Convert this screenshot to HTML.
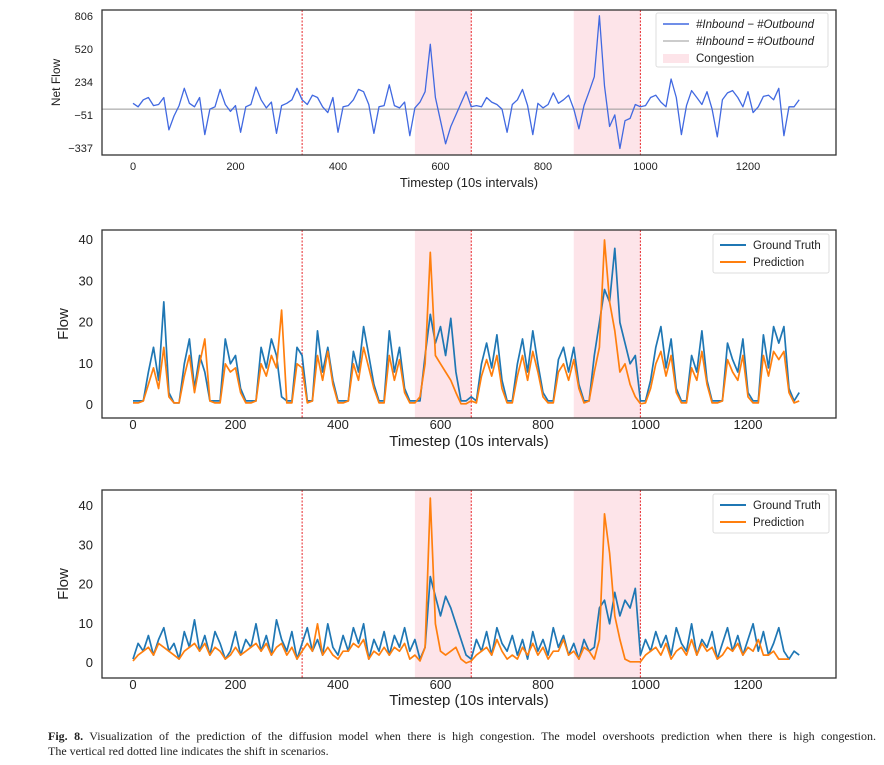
<!DOCTYPE html>
<html><head><meta charset="utf-8">
<style>
body{margin:0;background:#fff;width:884px;height:765px;overflow:hidden;font-family:"Liberation Sans",sans-serif;}
svg{position:absolute;left:0;top:0}
.cap{position:absolute;left:48px;top:729px;width:828px;font-family:"Liberation Serif",serif;font-size:12px;line-height:15px;color:#222}
.cap .l1{text-align:justify;text-align-last:justify;white-space:nowrap}
</style></head><body>
<svg id="chart" width="884" height="765" xmlns="http://www.w3.org/2000/svg"></svg>
<div class="cap"><div class="l1"><b>Fig. 8.</b> Visualization of the prediction of the diffusion model when there is high congestion. The model overshoots prediction when there is high congestion.</div><div>The vertical red dotted line indicates the shift in scenarios.</div></div>
<script>
const STEP = 10;
const xTicks = [0,200,400,600,800,1000,1200];
const netTicks = [806,520,234,-51,-337];
const flowTicks = [40,30,20,10,0];
const shiftLines = [330,660,990];
const congestion = [[550,660],[860,990]];
const netFlow = [50,20,80,100,30,40,100,-180,-60,30,180,50,20,100,-220,0,20,170,40,-20,30,-200,20,40,190,80,10,60,-210,30,50,80,180,80,40,120,100,20,-30,100,-200,20,30,80,170,150,40,-210,20,30,210,30,10,60,-230,10,60,150,560,100,-100,-300,-150,-50,50,150,20,30,20,100,60,40,0,-200,40,80,170,30,-220,50,10,40,140,50,80,120,0,-170,30,150,280,806,200,-150,-50,-340,-100,-80,40,20,30,100,120,60,20,260,100,-220,30,160,100,40,150,0,-240,80,140,160,100,20,150,-30,20,110,120,80,180,-230,20,20,80];
const gt2 = [1,1,1,8,14,6,25,3,0.5,0.5,10,16,4,12,8,1,1,1,16,10,12,4,1,1,1,14,9,16,12,2,1,1,14,12,1,1,18,8,14,6,1,1,1,13,8,19,12,5,1,1,18,8,14,4,1,1,1,12,22,15,19,12,21,8,1,1,2,1,10,15,9,17,6,1,1,10,16,8,18,10,3,1,1,11,14,8,14,5,1,1,12,20,28,25,38,20,15,10,12,1,1,6,14,19,9,16,4,1,1,12,8,18,6,1,1,1,15,11,8,16,3,1,1,17,9,19,15,19,4,1,3];
const pred2 = [0.5,0.5,1,5,9,4,14,2,0.5,0.5,7,12,3,10,16,1,0.5,0.5,10,8,9,3,0.5,0.5,1,10,7,12,9,23,0.5,0.5,10,9,0.5,1,12,6,13,5,0.5,0.5,1,10,6,14,9,4,0.5,0.5,12,6,11,3,0.5,0.5,2,10,37,12,10,8,6,3,0.3,0.3,1,0.5,7,11,7,12,4,0.5,0.5,7,12,6,13,8,2,0.5,0.5,8,10,6,11,4,0.5,1,8,14,40,25,18,8,10,5,2,0.3,0.5,4,10,13,7,12,3,0.5,0.5,9,6,13,5,0.5,0.5,1,11,8,6,12,2,0.5,0.5,12,7,13,11,13,3,0.5,1];
const gt3 = [1,5,3,7,2,6,9,3,5,1,8,4,11,3,7,2,8,5,1,3,8,2,6,4,10,3,7,2,11,6,3,8,1,5,9,3,6,2,10,4,2,7,3,9,5,10,1,6,3,8,2,7,4,9,3,6,1,4,22,17,12,17,14,10,6,2,1,6,3,8,2,9,5,3,7,2,6,1,8,3,6,2,9,4,7,2,5,1,6,3,4,14,16,10,18,12,16,14,19,2,6,3,8,4,7,2,9,5,3,10,2,6,4,8,1,5,9,3,7,2,6,10,3,8,2,5,9,3,1,3,2];
const pred3 = [0.5,2,3,4,2,5,4,3,2,1,3,4,5,3,5,2,4,3,1,2,4,2,3,4,5,3,5,2,4,5,2,4,1,3,5,3,10,2,4,2,1,3,3,5,4,6,1,3,2,4,2,4,3,5,1,2,0.5,4,42,10,3,2,3,4,1,0,0.5,2,3,4,2,6,3,1,2,1,4,2,5,2,4,1,3,3,6,2,3,1,4,3,1,6,38,28,12,6,1,0.3,0.3,0.3,2,3,4,2,5,1,3,4,2,6,2,5,3,4,1,2,4,3,5,2,4,3,6,2,2,3,1,1,1];

const svg = document.getElementById('chart');
const NS = 'http://www.w3.org/2000/svg';
function el(tag, attrs, parent){const e=document.createElementNS(NS,tag);for(const k in attrs)e.setAttribute(k,attrs[k]);(parent||svg).appendChild(e);return e;}
const X0=102, X1=836;
function xs(t){return 133 + t*0.5125;}

const panels = [
 {name:'net-flow-panel', top:10, bottom:155, y:v=>115 + (-51 - v)*(33/285), ticks:netTicks, tfs:11, ylab:'Net Flow', ylx:60, yfs:12, xly:166, xlab:187, xlfs:13},
 {name:'flow-panel-a', top:230, bottom:418, y:v=>405 - v*4.125, ticks:flowTicks, tfs:13, ylab:'Flow', ylx:68, yfs:15, xly:425, xlab:446, xlfs:15},
 {name:'flow-panel-b', top:490, bottom:678, y:v=>663 - v*3.925, ticks:flowTicks, tfs:13, ylab:'Flow', ylx:68, yfs:15, xly:685, xlab:705, xlfs:15}
];

function line(arr, p, color, w, name){
  let d='';
  arr.forEach((v,i)=>{d+=(i?'L':'M')+xs(i*STEP).toFixed(1)+','+p.y(v).toFixed(1);});
  const e=el('path',{d:d,fill:'none',stroke:color,'stroke-width':w,'stroke-linejoin':'round'});
  
  
}

panels.forEach((p,pi)=>{
  const g=el('g',{});
  
  
  congestion.forEach((c,ci)=>{
    const r=el('rect',{x:xs(c[0]),y:p.top,width:xs(c[1])-xs(c[0]),height:p.bottom-p.top,fill:'#fde4e9'},g);
    
    
  });
  shiftLines.forEach(t=>{
    const l=el('line',{x1:xs(t),x2:xs(t),y1:p.top,y2:p.bottom,stroke:'#e8262a','stroke-width':1,'stroke-dasharray':'2,1.5'},g);
    
    
  });
  p.ticks.forEach(v=>{
    const t=el('text',{x:93,y:p.y(v)+4,'text-anchor':'end','font-size':p.tfs,fill:'#222'},g);
    t.textContent = v<0 ? '\u2212'+(-v) : v;
    
    
  });
  xTicks.forEach(v=>{
    const t=el('text',{x:xs(v),y:p.xly+4,'text-anchor':'middle','font-size':p.tfs,fill:'#222'},g);
    t.textContent=v;
    
    
  });
  const yl=el('text',{x:p.ylx,y:(p.top+p.bottom)/2,'text-anchor':'middle','font-size':p.yfs,fill:'#222',transform:`rotate(-90 ${p.ylx} ${(p.top+p.bottom)/2})`},g);
  yl.textContent=p.ylab;
  
  
  const xl=el('text',{x:(X0+X1)/2,y:p.xlab,'text-anchor':'middle','font-size':p.xlfs,fill:'#222'},g);
  xl.textContent='Timestep (10s intervals)';
  
  
  if(pi===0){
    el('line',{x1:X0,x2:X1,y1:p.y(0),y2:p.y(0),stroke:'#999','stroke-width':1},g);
    line(netFlow,p,'#4169e1',1.3,'net-flow-line');
  } else if(pi===1){
    line(gt2,p,'#1f77b4',1.7,'ground-truth-line');
    line(pred2,p,'#ff7f0e',1.7,'prediction-line');
  } else {
    line(gt3,p,'#1f77b4',1.7,'ground-truth-line');
    line(pred3,p,'#ff7f0e',1.7,'prediction-line');
  }
  el('rect',{x:X0,y:p.top,width:X1-X0,height:p.bottom-p.top,fill:'none',stroke:'#333','stroke-width':1.3},g);
});

function legend(x,y,w,h,items,name){
  const g=el('g',{});
  
  
  el('rect',{x:x,y:y,width:w,height:h,rx:2,fill:'#fff','fill-opacity':0.85,stroke:'#ddd'},g);
  items.forEach((it,i)=>{
    const cy=y+11+i*17;
    if(it.patch) el('rect',{x:x+7,y:cy-4,width:26,height:9,fill:'#fde4e9'},g);
    else el('line',{x1:x+7,x2:x+33,y1:cy,y2:cy,stroke:it.c,'stroke-width':it.w},g);
    const t=el('text',{x:x+40,y:cy+4,'font-size':11.5,fill:'#222','font-style':it.it?'italic':'normal'},g);
    t.textContent=it.t;
    
    
  });
}
legend(656,13,172,54,[{c:'#4169e1',w:1.5,t:'#Inbound \u2212 #Outbound',it:1},{c:'#999',w:1,t:'#Inbound = #Outbound',it:1},{patch:1,t:'Congestion'}],'legend-net-flow');
legend(713,234,116,39,[{c:'#1f77b4',w:2,t:'Ground Truth'},{c:'#ff7f0e',w:2,t:'Prediction'}],'legend-flow-a');
legend(713,494,116,39,[{c:'#1f77b4',w:2,t:'Ground Truth'},{c:'#ff7f0e',w:2,t:'Prediction'}],'legend-flow-b');
</script>
</body></html>
